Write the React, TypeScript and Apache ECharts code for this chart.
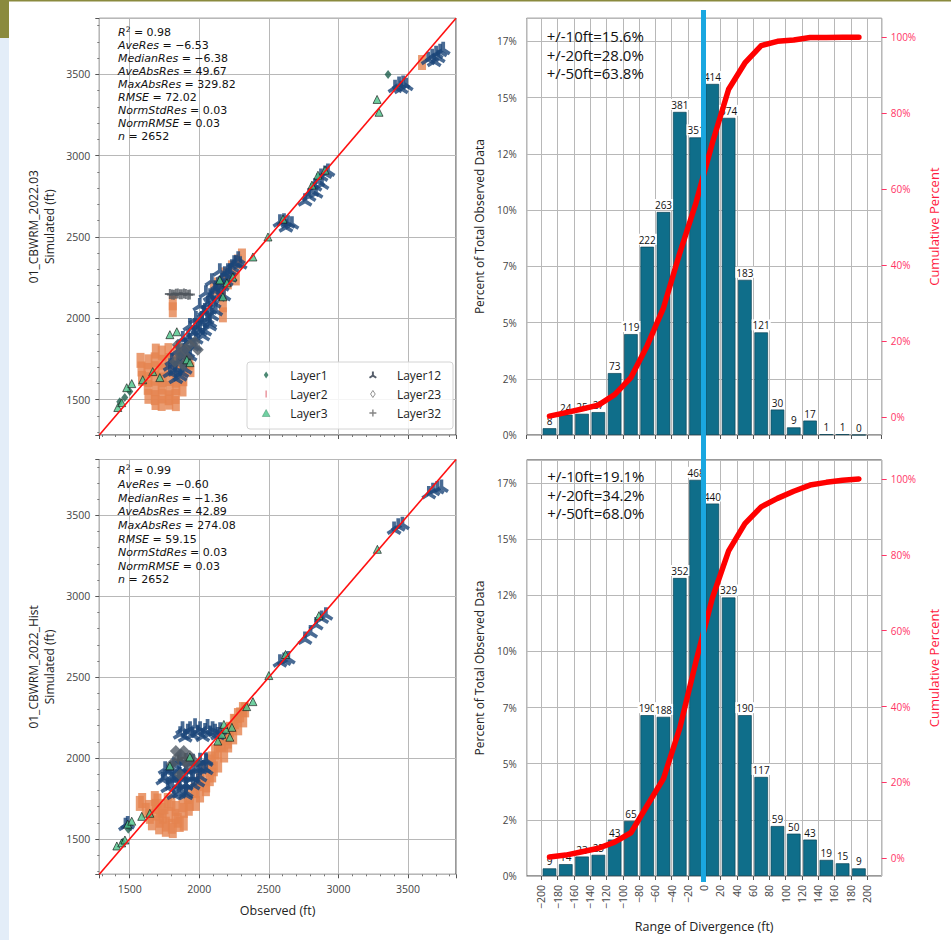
import React, { useEffect, useRef } from "react";
import * as echarts from "echarts";

// ---------------- data ----------------
const AXIS_MIN = 1282;
const AXIS_MAX = 3845;

const statNames = ["R", "AveRes", "MedianRes", "AveAbsRes", "MaxAbsRes", "RMSE", "NormStdRes", "NormRMSE", "n"];
const statsTop = ["0.98", "−6.53", "−6.38", "49.67", "329.82", "72.02", "0.03", "0.03", "2652"];
const statsBottom = ["0.99", "−0.60", "−1.36", "42.89", "274.08", "59.15", "0.03", "0.03", "2652"];

const binCenters = [-190, -170, -150, -130, -110, -90, -70, -50, -30, -10, 10, 30, 50, 70, 90, 110, 130, 150, 170, 190];
const countsTop = [8, 24, 25, 27, 73, 119, 222, 263, 381, 351, 414, 374, 183, 121, 30, 9, 17, 1, 1, 0];
const countsBottom = [9, 14, 23, 25, 43, 65, 190, 188, 352, 468, 440, 329, 190, 117, 59, 50, 43, 19, 15, 9];
const totalObs = 2652;
const withinTop = ["+/-10ft=15.6%", "+/-20ft=28.0%", "+/-50ft=63.8%"];
const withinBottom = ["+/-10ft=19.1%", "+/-20ft=34.2%", "+/-50ft=68.0%"];

// scatter points [observed, simulated]
const topLayer1 = [[1429, 1487], [1465, 1512], [1501, 1549], [3357, 3500]];
const topLayer2 = [
  [1688, 1798], [1731, 1786], [1779, 1801], [1838, 1790], [1880, 1797],
  [1578, 1741], [1635, 1732], [1680, 1744], [1736, 1729], [1786, 1740], [1830, 1733], [1888, 1741], [1929, 1730],
  [1585, 1688], [1628, 1679], [1686, 1690], [1729, 1675], [1780, 1686], [1837, 1678], [1881, 1689], [1937, 1684],
  [1589, 1630], [1636, 1622], [1679, 1631], [1737, 1620], [1785, 1629], [1831, 1619], [1886, 1628],
  [1630, 1575], [1686, 1566], [1730, 1577], [1787, 1568], [1836, 1574], [1880, 1565],
  [1635, 1520], [1681, 1512], [1736, 1522], [1780, 1511], [1829, 1519],
  [1686, 1482], [1730, 1476], [1785, 1484], [1832, 1475],
  [1810, 2095], [1810, 2052], [2105, 2187], [2134, 2205], [2163, 2162], [2170, 2083], [2170, 2021], [2184, 2267],
  [2206, 2224], [2235, 2310], [2263, 2248], [2278, 2346], [2307, 2383], [3601, 3573]
];
const topLayer12 = [
  [1789, 1672], [1832, 1696], [1861, 1745], [1803, 1745], [1846, 1806], [1889, 1770], [1904, 1837], [1933, 1868],
  [1882, 1880], [1961, 1917], [1990, 1941], [1933, 1960], [1976, 2003], [2019, 2003], [2040, 2052], [2004, 2083],
  [2062, 2095], [2091, 2125], [2048, 2162], [2112, 2175], [2134, 2211], [2091, 2236], [2163, 2236], [2184, 2279],
  [2148, 2297], [2206, 2297], [2235, 2322], [2220, 2260], [2263, 2346], [1918, 1794], [1968, 1837], [2026, 1899],
  [2076, 1978], [2119, 2052], [2177, 2144], [2040, 1929], [2076, 1960], [2091, 2021], [1832, 1635], [1875, 1672],
  [1791, 1713], [1827, 1682], [1863, 1651], [1899, 1694], [1848, 1743], [1891, 1805], [1934, 1774], [1949, 1836],
  [1920, 1891], [1978, 1879], [2006, 1928], [1970, 1959], [2021, 1977], [2057, 2002], [2035, 2039], [2078, 2063],
  [2107, 2100], [2078, 2143], [2136, 2143], [2122, 2192], [2165, 2205], [2194, 2235], [2222, 2297], [2251, 2346],
  [2280, 2371], [2294, 2340],
  [3645, 3598], [3674, 3616], [3702, 3635], [3731, 3647], [3753, 3659], [3717, 3610], [3688, 3586],
  [3407, 3426], [3436, 3445], [3465, 3451], [3487, 3438], [3451, 3420],
  [2760, 2727], [2789, 2757], [2810, 2788], [2832, 2819], [2853, 2849], [2875, 2880], [2904, 2898], [2925, 2911],
  [2839, 2776], [2882, 2831], [2580, 2598], [2609, 2604], [2638, 2592], [2666, 2586], [2623, 2567]
];
const topLayer23 = [[1825, 1733], [1861, 1776], [1897, 1806], [1933, 1837], [1968, 1856], [1846, 1837], [1918, 1757], [1990, 1806], [1882, 1714]];
const topLayer32 = [[1789, 2150], [1804, 2146], [1818, 2145], [1832, 2151], [1846, 2152], [1861, 2147], [1875, 2148], [1890, 2153], [1904, 2150], [1920, 2145], [1933, 2146]];
const topLayer3 = [
  [1415, 1451], [1443, 1481], [1479, 1573], [1515, 1598], [1594, 1622], [1666, 1672], [1717, 1635], [1789, 1899],
  [1839, 1917], [1911, 1745], [1933, 1727], [2148, 2236], [2199, 2218], [2242, 2254], [2170, 2132], [2386, 2377],
  [2494, 2500], [2602, 2610], [2810, 2819], [2853, 2880], [2904, 2911], [3278, 3346], [3292, 3267]
];

const botLayer1 = [[1451, 1480], [1490, 1560]];
const botLayer2 = [
  [1573, 1720], [1616, 1677], [1645, 1640], [1688, 1702], [1717, 1616], [1760, 1592], [1803, 1579], [1846, 1616],
  [1889, 1677], [1933, 1720], [1832, 1689], [1731, 1677], [1774, 1738], [1681, 1750], [1918, 1763], [1968, 1799],
  [1590, 1738], [1640, 1695], [1692, 1660], [1738, 1640], [1785, 1650], [1830, 1640], [1880, 1712], [1925, 1690],
  [1660, 1600], [1712, 1575], [1760, 1560], [1810, 1552], [1860, 1590], [1700, 1735], [1750, 1700], [1800, 1720],
  [2004, 1842], [2048, 1811], [2076, 1873], [2105, 1934], [2091, 1995], [2134, 2044], [2163, 2086], [2192, 2129],
  [2220, 2178], [2249, 2227], [2278, 2263], [2314, 2300], [2206, 2105], [2163, 2147], [1889, 1598], [1976, 1720],
  [1970, 1803], [2006, 1865], [2042, 1927], [2078, 1976], [2114, 2038], [2150, 2081], [2186, 2125], [2222, 2174],
  [2258, 2224], [2294, 2267], [2330, 2298], [2006, 1772], [2050, 1834], [2093, 1896], [2136, 1957], [2179, 2019],
  [2208, 2081], [2244, 2131], [2280, 2187], [2316, 2236]
];
const botLayer12 = [
  [1863, 2155], [1880, 2186], [1899, 2136], [1918, 2170], [1934, 2186], [1952, 2150], [1970, 2205], [1990, 2165],
  [2006, 2186], [2025, 2140], [2042, 2175], [2060, 2200], [2078, 2160], [2096, 2186], [2114, 2170], [2132, 2150],
  [2150, 2180],
  [1738, 1873], [1774, 1921], [1774, 1824], [1817, 1964], [1817, 1873], [1817, 1781], [1861, 1995], [1861, 1903],
  [1861, 1811], [1904, 1934], [1904, 1842], [1947, 1982], [1947, 1885], [1990, 1946], [1990, 1860], [2033, 1946],
  [2048, 1995], [1904, 1781],
  [1855, 1988], [1906, 1990], [1956, 1985], [2006, 1991], [2050, 1986], [1755, 1939], [1805, 1942], [1855, 1936],
  [1906, 1941], [1956, 1937], [2006, 1940], [2050, 1935], [1755, 1889], [1805, 1892], [1855, 1886], [1906, 1890],
  [1956, 1887], [2006, 1891], [1805, 1840], [1855, 1843], [1906, 1838], [1956, 1842], [1855, 1790], [1906, 1793],
  [1486, 1600], [1470, 1590],
  [2580, 2600], [2610, 2610], [2640, 2620], [2760, 2740], [2800, 2780], [2840, 2830], [2880, 2870], [2910, 2890],
  [3400, 3420], [3430, 3440], [3460, 3450], [3650, 3640], [3680, 3660], [3710, 3670], [3740, 3680]
];
const botLayer23 = [[1803, 1964], [1846, 2007], [1889, 2044], [1933, 2013], [1968, 1976], [1861, 1897], [1918, 1958], [1832, 2044], [1870, 2020], [1900, 1985]];
const botLayer32 = [[1850, 1990], [1900, 2000]];
const botLayer3 = [
  [1408, 1457], [1443, 1476], [1466, 1494], [1486, 1592], [1515, 1610], [1587, 1640], [1645, 1659], [1789, 1952],
  [1933, 2007], [2134, 2105], [2163, 2147], [2192, 2178], [2220, 2129], [2177, 2208], [2235, 2190], [2341, 2318],
  [2386, 2349], [2500, 2510], [2620, 2640], [2860, 2880], [3280, 3290]
];

// ---------------- styles ----------------
const FONT = "'Open Sans', 'Noto Sans', sans-serif";
const MATH = "'DejaVu Sans', sans-serif";
const TRI_PATH = "path://M7.5,0 L12.5,0 L12.5,9 L20,14 L17.5,18 L10,13.5 L2.5,18 L0,14 L7.5,9 Z";
const PLUS_PATH = "path://M4,0 L6,0 L6,4 L10,4 L10,6 L6,6 L6,10 L4,10 L4,6 L0,6 L0,4 L4,4 Z";
const VLINE_PATH = "path://M0,0 L2,0 L2,10 L0,10 Z";
const DIAMOND_PATH = "path://M5,0 L9,6 L5,12 L1,6 Z";
const TRIANGLE_PATH = "path://M5,0 L10,9 L0,9 Z";

const layerStyle: Record<string, any> = {
  Layer1: { symbol: "diamond", symbolSize: [7, 9], itemStyle: { color: "#1D5E4C" } },
  Layer2: { symbol: "rect", symbolSize: [8, 15], itemStyle: { color: "#E5834F" } },
  Layer3: { symbol: "triangle", symbolSize: 8, itemStyle: { color: "#4CC48A", borderColor: "#111", borderWidth: 0.8 } },
  Layer12: { symbol: TRI_PATH, symbolSize: 15, itemStyle: { color: "#1C4679" } },
  Layer23: { symbol: "diamond", symbolSize: 12, itemStyle: { color: "#525D68" } },
  Layer32: { symbol: PLUS_PATH, symbolSize: 10, itemStyle: { color: "#4F555C" } },
};

const pct = (c: number) => (c / totalObs) * 100;
const cumulative = (counts: number[]) => {
  const s = counts.reduce((a, b) => a + b, 0);
  let acc = 0;
  return counts.map((c, i) => {
    acc += c;
    return [binCenters[i], (acc / s) * 100];
  });
};

function scatterSeries(panel: number, layers: Record<string, number[][]>) {
  const order = ["Layer2", "Layer12", "Layer23", "Layer32", "Layer1", "Layer3"];
  return order.map((name) => ({
    type: "scatter",
    name,
    xAxisIndex: panel,
    yAxisIndex: panel,
    data: layers[name],
    symbol: layerStyle[name].symbol,
    symbolSize: layerStyle[name].symbolSize,
    itemStyle: layerStyle[name].itemStyle,
    symbolKeepAspect: true,
    z: 2,
  }));
}

function statTexts(values: string[], x: number, y0: number, dy: number) {
  const rich = {
    i: { fontFamily: MATH, fontStyle: "italic", fontSize: 11, lineHeight: 14, fill: "#111", verticalAlign: "middle" },
    n: { fontFamily: MATH, fontSize: 11, lineHeight: 14, fill: "#111", verticalAlign: "middle" },
    sup: { fontFamily: MATH, fontSize: 7.5, lineHeight: 14, fill: "#111", verticalAlign: "top" },
  };
  return statNames.map((name, i) => {
    const text = i === 0 ? `{i|R}{sup|2}{n| = ${values[i]}}` : `{i|${name}}{n| = ${values[i]}}`;
    return {
      type: "text",
      x,
      y: y0 + i * dy,
      z: 20,
      style: { text, rich, verticalAlign: "middle", align: "left" },
    };
  });
}

function withinTexts(lines: string[], x: number, yCenter: number) {
  return lines.map((t, i) => ({
    type: "text",
    x,
    y: yCenter + i * 18.8,
    z: 20,
    style: { text: t, fontFamily: FONT, fontSize: 15, fill: "#111", verticalAlign: "middle", align: "left" },
  }));
}

const gridLine = { show: true, lineStyle: { color: "#b8b8b8", width: 1 } };
const tickStyle = { show: true, length: 4, lineStyle: { color: "#555" } };
const labelStyle = { fontFamily: FONT, fontSize: 10.5, color: "#444" };

function scatterX(idx: number, showLabels: boolean) {
  return {
    type: "value",
    gridIndex: idx,
    min: AXIS_MIN,
    max: AXIS_MAX,
    splitNumber: 5,
    axisLine: { show: false },
    axisTick: tickStyle,
    minorTick: { show: true, splitNumber: 5, length: 2, lineStyle: { color: "#777" } },
    splitLine: gridLine,
    axisLabel: { ...labelStyle, show: showLabels, margin: 9, showMinLabel: false, showMaxLabel: false, formatter: (v: number) => String(v) },
    name: showLabels ? "Observed (ft)" : "",
    nameLocation: "middle",
    nameGap: 30,
    nameTextStyle: { fontFamily: FONT, fontSize: 12.5, color: "#222" },
  };
}

function scatterY(idx: number, title: string) {
  return {
    type: "value",
    gridIndex: idx,
    min: AXIS_MIN,
    max: AXIS_MAX,
    splitNumber: 5,
    axisLine: { show: false },
    axisTick: tickStyle,
    minorTick: { show: true, splitNumber: 5, length: 2, lineStyle: { color: "#777" } },
    splitLine: gridLine,
    axisLabel: { ...labelStyle, margin: 9, showMinLabel: false, showMaxLabel: false, formatter: (v: number) => String(v) },
    name: title,
    nameLocation: "middle",
    nameRotate: 90,
    nameGap: 42,
    nameTextStyle: { fontFamily: FONT, fontSize: 12, lineHeight: 16, color: "#222" },
  };
}

function histX(idx: number, showLabels: boolean) {
  return {
    type: "value",
    gridIndex: idx,
    min: -218,
    max: 218,
    splitNumber: 22,
    axisLine: { show: false },
    axisTick: tickStyle,
    splitLine: gridLine,
    axisLabel: {
      ...labelStyle,
      show: showLabels,
      rotate: 90,
      margin: 9,
      showMinLabel: false,
      showMaxLabel: false,
      formatter: (v: number) => (v < 0 ? "−" + Math.abs(v) : String(v)),
    },
    name: showLabels ? "Range of Divergence (ft)" : "",
    nameLocation: "middle",
    nameGap: 44,
    nameTextStyle: { fontFamily: FONT, fontSize: 12.5, color: "#222" },
  };
}

function histY(idx: number) {
  return {
    type: "value",
    gridIndex: idx,
    min: 0,
    max: 18.53,
    interval: 2.5,
    axisLine: { show: false },
    axisTick: { show: false },
    minorTick: { show: true, splitNumber: 5, length: 2, lineStyle: { color: "#777" } },
    splitLine: gridLine,
    axisLabel: {
      ...labelStyle,
      fontSize: 10,
      margin: 10,
      showMaxLabel: false,
      formatter: (v: number) => Math.floor(v + 1e-9) + "%",
    },
    name: "Percent of Total Observed Data",
    nameLocation: "middle",
    nameRotate: 90,
    nameGap: 41,
    nameTextStyle: { fontFamily: FONT, fontSize: 12, color: "#222" },
  };
}

function cumY(idx: number, min: number, max: number) {
  const vals = [0, 20, 40, 60, 80, 100];
  return {
    type: "value",
    gridIndex: idx,
    position: "right",
    min,
    max,
    axisLine: { show: false },
    splitLine: { show: false },
    axisTick: { show: true, length: 5, customValues: vals, lineStyle: { color: "#FF3366" } },
    axisLabel: {
      customValues: vals,
      fontFamily: FONT,
      fontSize: 10,
      color: "#FF3366",
      margin: 9,
      formatter: (v: number) => Math.round(v) + "%",
    },
    name: "Cumulative Percent",
    nameLocation: "middle",
    nameRotate: 90,
    nameGap: 46,
    nameTextStyle: { fontFamily: FONT, fontSize: 13, color: "#FF1A40" },
  };
}

function histSeries(axis: number, yLeft: number, yRight: number, counts: number[]) {
  return [
    {
      type: "bar",
      xAxisIndex: axis,
      yAxisIndex: yLeft,
      barWidth: 13.6,
      data: binCenters.map((c, i) => ({ value: [c, pct(counts[i])], count: counts[i] })),
      itemStyle: { color: "#0F6E8A", borderColor: "#0B4558", borderWidth: 0.7 },
      label: {
        show: true,
        position: "top",
        distance: 2,
        fontFamily: FONT,
        fontSize: 10,
        color: "#111",
        backgroundColor: "#fff",
        padding: [1, 1, 0, 1],
        formatter: (p: any) => String(p.data.count),
      },
      z: 2,
    },
    {
      type: "line",
      xAxisIndex: axis,
      yAxisIndex: yRight,
      data: cumulative(counts),
      symbol: "none",
      lineStyle: { color: "#FF0000", width: 5.5, cap: "round", join: "round" },
      z: 5,
    },
  ];
}

function legendCol(names: any[], left: number) {
  return {
    data: names,
    orient: "vertical",
    left,
    top: 364,
    padding: 5,
    itemWidth: 38,
    itemHeight: 7,
    itemGap: 7,
    selectedMode: false,
    z: 10,
    textStyle: { fontFamily: FONT, fontSize: 12, lineHeight: 12, color: "#222" },
  };
}

export default function App() {
  const ref = useRef<HTMLDivElement>(null);
  useEffect(() => {
    if (!ref.current) return;
    const chart = echarts.init(ref.current, undefined, { renderer: "svg" });
    const option: any = {
      animation: false,
      backgroundColor: "#ffffff",
      grid: [
        { left: 99.3, top: 18.3, width: 356.7, height: 416.7, show: true, borderColor: "#333", borderWidth: 1, backgroundColor: "transparent" },
        { left: 99.3, top: 459.5, width: 356.7, height: 414.8, show: true, borderColor: "#333", borderWidth: 1, backgroundColor: "transparent" },
        { left: 526.7, top: 18.3, width: 355, height: 416.7, show: true, borderColor: "#333", borderWidth: 1, backgroundColor: "transparent" },
        { left: 526.7, top: 460, width: 355, height: 416, show: true, borderColor: "#333", borderWidth: 1, backgroundColor: "transparent" },
      ],
      xAxis: [scatterX(0, false), scatterX(1, true), histX(2, false), histX(3, true)],
      yAxis: [
        scatterY(0, "01_CBWRM_2022.03\nSimulated (ft)"),
        scatterY(1, "01_CBWRM_2022_Hist\nSimulated (ft)"),
        histY(2),
        cumY(2, -4.68, 104.99),
        histY(3),
        cumY(3, -4.64, 104.98),
      ],
      legend: [
        legendCol([
          { name: "Layer1", icon: DIAMOND_PATH, itemStyle: { color: "#1F6A50" } },
          { name: "Layer2", icon: VLINE_PATH, itemStyle: { color: "#E2737E" } },
          { name: "Layer3", icon: TRIANGLE_PATH, itemStyle: { color: "#4CC48A", borderColor: "#2E7D5B", borderWidth: 0.5 } },
        ], 257),
        legendCol([
          { name: "Layer12", icon: TRI_PATH, itemStyle: { color: "#2A3545" } },
          { name: "Layer23", icon: DIAMOND_PATH, itemStyle: { color: "#ffffff", borderColor: "#777", borderWidth: 1 } },
          { name: "Layer32", icon: PLUS_PATH, itemStyle: { color: "#666" } },
        ], 364),
      ],
      series: [
        ...scatterSeries(0, { Layer1: topLayer1, Layer2: topLayer2, Layer3: topLayer3, Layer12: topLayer12, Layer23: topLayer23, Layer32: topLayer32 }),
        ...scatterSeries(1, { Layer1: botLayer1, Layer2: botLayer2, Layer3: botLayer3, Layer12: botLayer12, Layer23: botLayer23, Layer32: botLayer32 }),
        { type: "line", xAxisIndex: 0, yAxisIndex: 0, data: [[AXIS_MIN, AXIS_MIN], [AXIS_MAX, AXIS_MAX]], symbol: "none", lineStyle: { color: "#FF1010", width: 1.6 }, z: 6 },
        { type: "line", xAxisIndex: 1, yAxisIndex: 1, data: [[AXIS_MIN, AXIS_MIN], [AXIS_MAX, AXIS_MAX]], symbol: "none", lineStyle: { color: "#FF1010", width: 1.6 }, z: 6 },
        ...histSeries(2, 2, 3, countsTop),
        ...histSeries(3, 4, 5, countsBottom),
      ],
      graphic: [
        { type: "rect", z: 0, shape: { x: 0, y: 0, width: 951, height: 1.5 }, style: { fill: "#8A8A3E" } },
        { type: "rect", z: 0, shape: { x: 0, y: 0, width: 9, height: 38 }, style: { fill: "#8A8A3E" } },
        { type: "rect", z: 0, shape: { x: 0, y: 38, width: 9, height: 902 }, style: { fill: "#E3EDF8" } },
        { type: "rect", z: 8, shape: { x: 247, y: 362, width: 206, height: 67, r: 3 }, style: { fill: "rgba(255,255,255,0.85)", stroke: "#d4d4d4", lineWidth: 1 } },
        ...statTexts(statsTop, 118, 32.3, 13.05),
        ...statTexts(statsBottom, 118, 470.7, 13.66),
        ...withinTexts(withinTop, 546.7, 35.7),
        ...withinTexts(withinBottom, 547.3, 475.7),
        { type: "line", z: 100, shape: { x1: 703.5, y1: 10, x2: 703.5, y2: 882 }, style: { stroke: "#1AA7E0", lineWidth: 5 } },
      ],
    };
    chart.setOption(option);
    return () => chart.dispose();
  }, []);
  return <div ref={ref} style={{ position: "fixed", left: 0, top: 0, width: 951, height: 940 }} />;
}
